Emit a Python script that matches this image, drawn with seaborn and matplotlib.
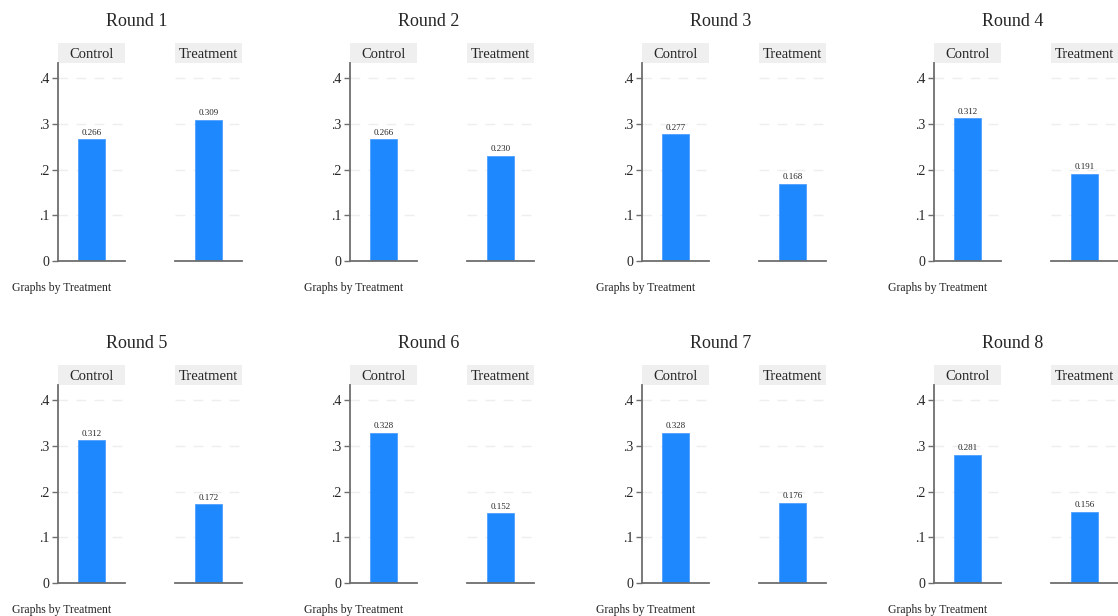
import matplotlib
matplotlib.use("Agg")
import matplotlib.pyplot as plt
import pandas as pd
import seaborn as sns

# Share by round and treatment arm
rounds = ["Round 1", "Round 2", "Round 3", "Round 4",
          "Round 5", "Round 6", "Round 7", "Round 8"]
groups = ["Control", "Treatment"]
control = [0.266, 0.266, 0.277, 0.312, 0.312, 0.328, 0.328, 0.281]
treatment = [0.309, 0.230, 0.168, 0.191, 0.172, 0.152, 0.176, 0.156]
yticks = [0, 0.1, 0.2, 0.3, 0.4]
ytick_labels = ["0", ".1", ".2", ".3", ".4"]
note = "Graphs by Treatment"

sns.set_style("white")
plt.rcParams["font.family"] = ["Liberation Serif", "DejaVu Serif"]

BLUE = "#1E88FF"
AXIS = "#6e6e6e"
GRID = "#eeeeee"
STRIP = "#efefef"

W, H = 1118, 616
fig = plt.figure(figsize=(W / 100, H / 100), dpi=100)
fig.patch.set_facecolor("white")


def px_axes(x0, y0, x1, y1):
    """Axes placed by a pixel box measured from the top-left corner."""
    return fig.add_axes([x0 / W, 1 - y1 / H, (x1 - x0) / W, (y1 - y0) / H])


for i, rnd in enumerate(rounds):
    dx = 292 * (i % 4)
    dy = 322 * (i // 4)
    vals = [control[i], treatment[i]]

    fig.text((137 + dx) / W, 1 - (22 + dy) / H, rnd, ha="center", va="center",
             fontsize=13)
    fig.text((12 + dx) / W, 1 - (288 + dy) / H, note, ha="left", va="center",
             fontsize=8.5)

    for j, grp in enumerate(groups):
        x0 = 58 + 117 * j + dx
        x1 = x0 + 67

        # strip header
        sax = px_axes(x0, 43 + dy, x1, 63 + dy)
        sax.set_facecolor(STRIP)
        sax.set_xticks([])
        sax.set_yticks([])
        for s in sax.spines.values():
            s.set_visible(False)
        sax.text(0.5, 0.44, grp, ha="center", va="center", fontsize=10.5,
                 transform=sax.transAxes)

        ax = px_axes(x0, 63 + dy, x1, 261 + dy)
        df = pd.DataFrame({"group": [grp], "share": [vals[j]]})
        sns.barplot(data=df, x="group", y="share", ax=ax, color=BLUE,
                    saturation=1, width=0.4, edgecolor="#4f9fff", linewidth=0.6)
        ax.set_xlim(-0.5, 0.5)
        ax.set_ylim(0, 0.433)
        ax.set_xlabel("")
        ax.set_ylabel("")
        ax.set_xticks([])
        ax.set_yticks(yticks)
        ax.set_axisbelow(True)
        ax.yaxis.grid(True, color=GRID, linewidth=1.0, linestyle=(0, (7, 6)))
        for s in ("top", "right"):
            ax.spines[s].set_visible(False)
        ax.spines["bottom"].set_color(AXIS)
        ax.spines["bottom"].set_linewidth(1.3)
        if j == 0:
            ax.spines["left"].set_color(AXIS)
            ax.spines["left"].set_linewidth(1.3)
            ax.set_yticklabels(ytick_labels, fontsize=10)
            ax.tick_params(axis="y", length=4, width=1.0, color=AXIS, pad=2,
                           left=True)
        else:
            ax.spines["left"].set_visible(False)
            ax.set_yticklabels([])
            ax.tick_params(axis="y", length=0)
        ax.bar_label(ax.containers[0], fmt="%.3f", padding=2, fontsize=6.5,
                     family=["Liberation Sans Narrow", "Liberation Serif"])

fig.savefig("out.png", dpi=100, facecolor="white")
